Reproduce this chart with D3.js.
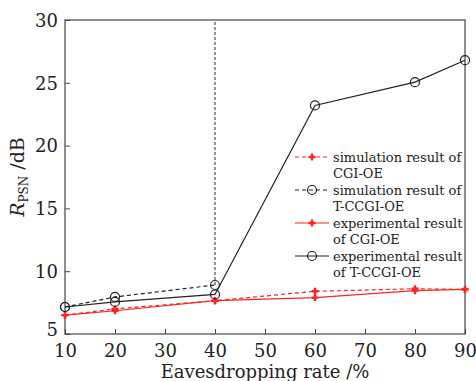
<!DOCTYPE html>
<html>
<head>
<meta charset="utf-8">
<script src="https://cdn.jsdelivr.net/npm/d3@7"></script>
<style>
  body { margin: 0; background: #fff; }
  text { font-family: "DejaVu Serif", "Liberation Serif", serif; }
</style>
</head>
<body>
<div id="chart"></div>
<script>
// eavesdropping rate (%)
var rates = [10, 20, 40, 60, 80, 90];
var ratesSimT = [10, 20, 40];

// R_PSN values (dB)
var simCGI = [6.5, 7.0, 7.65, 8.4, 8.6, 8.55];
var simTCCGI = [7.15, 7.95, 8.9];
var expCGI = [6.5, 6.85, 7.65, 7.9, 8.45, 8.55];
var expTCCGI = [7.15, 7.55, 8.15, 23.2, 25.05, 26.8];

// dashed vertical line of the simulation curve at 40 %
var cutRate = 40;

var xTicks = [10, 20, 30, 40, 50, 60, 70, 80, 90];
var yTicks = [5, 10, 15, 20, 25, 30];

var legendLabels = [
  ["simulation result of", "CGI-OE"],
  ["simulation result of", "T-CCGI-OE"],
  ["experimental result", "of CGI-OE"],
  ["experimental result", "of T-CCGI-OE"]
];

var margin = {top: 20, right: 11, bottom: 47, left: 65},
    width = 476 - margin.left - margin.right,
    height = 381 - margin.top - margin.bottom;

var svg = d3.select("#chart").append("svg")
    .attr("width", 476)
    .attr("height", 381)
  .append("g")
    .attr("transform", "translate(" + margin.left + "," + margin.top + ")");

var x = d3.scaleLinear().domain([10, 90]).range([0, width]);
var y = d3.scaleLinear().domain([5, 30]).range([height, 0]);

var axisColor = "#444";

// axes, ticks pointing inward
var xAxis = svg.append("g")
    .attr("transform", "translate(0," + height + ")")
    .call(d3.axisBottom(x).tickValues(xTicks).tickSizeInner(-5).tickSizeOuter(0));
var yAxis = svg.append("g")
    .call(d3.axisLeft(y).tickValues(yTicks).tickSizeInner(-5).tickSizeOuter(0));

[xAxis, yAxis].forEach(function(a) {
  a.select(".domain").remove();
  a.selectAll("line").attr("stroke", axisColor).attr("stroke-width", 1);
  a.selectAll("text")
    .attr("fill", "#222")
    .style("font-family", "'DejaVu Serif', serif")
    .style("font-size", "18px");
});
xAxis.selectAll("text").attr("y", 17).attr("dy", "0.35em");
yAxis.selectAll("text").attr("x", -7).attr("dy", "0.35em");
// lift the lowest y label a little so it clears the first x label
yAxis.selectAll("text").filter(function(d) { return d === 5; }).attr("dy", "0.1em");

// frame
svg.append("rect")
    .attr("width", width)
    .attr("height", height)
    .attr("fill", "none")
    .attr("stroke", axisColor)
    .attr("stroke-width", 1.2);

// axis titles
svg.append("text")
    .attr("x", width / 2)
    .attr("y", height + 44)
    .attr("text-anchor", "middle")
    .attr("fill", "#222")
    .style("font-size", "18px")
    .text("Eavesdropping rate /%");

var yl = svg.append("text")
    .attr("transform", "translate(-41," + (height / 2) + ") rotate(-90)")
    .attr("text-anchor", "middle")
    .attr("fill", "#222")
    .style("font-size", "19px");
yl.append("tspan").style("font-style", "italic").text("R");
yl.append("tspan").attr("dy", 4).style("font-size", "12px").text("PSN");
yl.append("tspan").attr("dy", -4).text(" /dB");

// series
var series = [
  {xs: rates, ys: simCGI, color: "#f22", dash: "4,3", marker: "plus"},
  {xs: ratesSimT, ys: simTCCGI, color: "#222", dash: "4,3", marker: "circle"},
  {xs: rates, ys: expCGI, color: "#f22", dash: null, marker: "plus"},
  {xs: rates, ys: expTCCGI, color: "#222", dash: null, marker: "circle"}
];

var line = d3.line()
    .x(function(d) { return x(d[0]); })
    .y(function(d) { return y(d[1]); });

// vertical dashed line at 40 % from the last simulated point to the top
svg.append("path")
    .attr("d", line([[cutRate, simTCCGI[simTCCGI.length - 1]], [cutRate, 30]]))
    .attr("fill", "none")
    .attr("stroke", "#222")
    .attr("stroke-width", 1)
    .attr("stroke-dasharray", "3,2");

function drawMarker(g, kind, color) {
  if (kind === "circle") {
    g.append("circle")
      .attr("r", 4.5)
      .attr("fill", "none")
      .attr("stroke", color)
      .attr("stroke-width", 1.2);
  } else {
    g.append("path")
      .attr("d", "M-3.5,0H3.5M0,-3.5V3.5")
      .attr("stroke", color)
      .attr("stroke-width", 2.4);
  }
}

series.forEach(function(s) {
  var pts = s.xs.map(function(v, i) { return [v, s.ys[i]]; });
  svg.append("path")
      .attr("d", line(pts))
      .attr("fill", "none")
      .attr("stroke", s.color)
      .attr("stroke-width", 1.2)
      .attr("stroke-dasharray", s.dash);
  svg.selectAll(null)
      .data(pts)
    .enter().append("g")
      .attr("transform", function(d) { return "translate(" + x(d[0]) + "," + y(d[1]) + ")"; })
      .each(function() { drawMarker(d3.select(this), s.marker, s.color); });
});

// legend
var legend = svg.append("g")
    .attr("transform", "translate(" + (295 - margin.left) + "," + (157 - margin.top) + ")");

legendLabels.forEach(function(lab, i) {
  var s = series[i];
  var g = legend.append("g").attr("transform", "translate(0," + (i * 33) + ")");
  g.append("line")
      .attr("x1", 0).attr("x2", 34)
      .attr("stroke", s.color)
      .attr("stroke-width", 1.2)
      .attr("stroke-dasharray", s.dash);
  drawMarker(g.append("g").attr("transform", "translate(17,0)"), s.marker, s.color);
  var t = g.append("text")
      .attr("x", 38)
      .attr("fill", "#222")
      .style("font-size", "13px");
  t.append("tspan").attr("x", 38).attr("dy", "0.35em").text(lab[0]);
  t.append("tspan").attr("x", 38).attr("dy", 16).text(lab[1]);
});
</script>
</body>
</html>
